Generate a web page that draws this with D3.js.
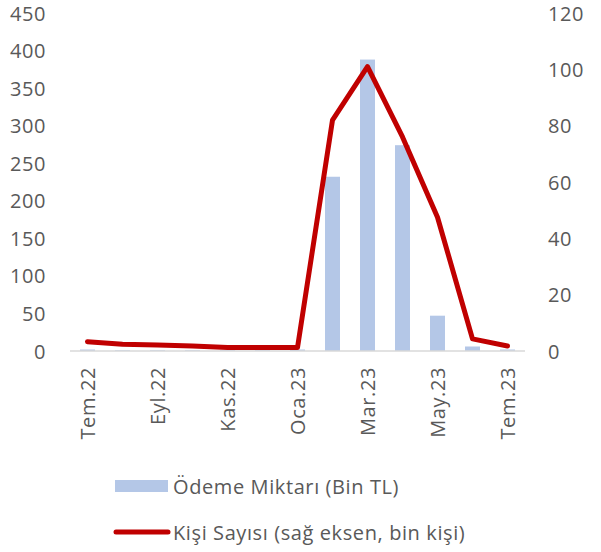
<!DOCTYPE html>
<meta charset="utf-8">
<script src="https://d3js.org/d3.v7.min.js"></script>
<style>
  body { margin: 0; background: #fff; }
  text { font-family: "Open Sans", sans-serif; fill: #595959; letter-spacing: 0.6px; }
</style>
<svg id="chart" width="601" height="552"></svg>
<script>
// months (every other one gets a label)
var months = ["Tem.22","Ağu.22","Eyl.22","Eki.22","Kas.22","Ara.22","Oca.23","Şub.23","Mar.23","Nis.23","May.23","Haz.23","Tem.23"]
var shownLabels = ["Tem.22","Eyl.22","Kas.22","Oca.23","Mar.23","May.23","Tem.23"]
// Ödeme Miktarı (Bin TL) - left axis
var payment = [2, 1, 1, 1, 1, 1, 2, 232, 388, 274, 47, 6, 2]
// Kişi Sayısı (bin kişi) - right axis
var people = [3.3, 2.4, 2.1, 1.8, 1.2, 1.2, 1.2, 82, 101, 76, 47.5, 4.3, 1.8]
var leftTicks = [0,50,100,150,200,250,300,350,400,450]
var rightTicks = [0,20,40,60,80,100,120]

var svg = d3.select("#chart")
var fs = 20

var x = d3.scaleBand().domain(months).range([70, 525])
var yL = d3.scaleLinear().domain([0, 450]).range([351, 13])
var yR = d3.scaleLinear().domain([0, 120]).range([351, 13])

// bars
svg.append("g")
  .selectAll("rect")
  .data(payment)
  .enter()
  .append("rect")
    .attr("x", function(d,i){ return x(months[i]) + x.bandwidth()/2 - 7.5 })
    .attr("width", 15)
    .attr("y", function(d){ return yL(d) })
    .attr("height", function(d){ return yL(0) - yL(d) })
    .style("fill", "#B4C7E7")

// baseline
svg.append("line")
  .attr("x1", 70).attr("x2", 525)
  .attr("y1", yL(0)).attr("y2", yL(0))
  .attr("stroke", "#D9D9D9").attr("stroke-width", 1.5)

// line
var line = d3.line()
  .x(function(d,i){ return x(months[i]) + x.bandwidth()/2 })
  .y(function(d){ return yR(d) })
svg.append("path")
  .datum(people)
  .attr("d", line)
  .attr("fill", "none")
  .attr("stroke", "#C00000")
  .attr("stroke-width", 5)
  .attr("stroke-linejoin", "round")
  .attr("stroke-linecap", "round")

// left axis labels
svg.selectAll("leftTick")
  .data(leftTicks)
  .enter()
  .append("text")
    .attr("x", 46)
    .attr("y", function(d){ return yL(d) })
    .attr("text-anchor", "end")
    .attr("dominant-baseline", "central")
    .style("font-size", fs)
    .text(function(d){ return d })

// right axis labels
svg.selectAll("rightTick")
  .data(rightTicks)
  .enter()
  .append("text")
    .attr("x", 548)
    .attr("y", function(d){ return yR(d) })
    .attr("dominant-baseline", "central")
    .style("font-size", fs)
    .text(function(d){ return d })

// x labels, rotated
svg.selectAll("xLabel")
  .data(shownLabels)
  .enter()
  .append("text")
    .attr("transform", function(d){
      return "translate(" + (x(d) + x.bandwidth()/2) + ",367) rotate(-90)"
    })
    .attr("text-anchor", "end")
    .attr("dominant-baseline", "central")
    .style("font-size", fs)
    .text(function(d){ return d })

// legend
svg.append("rect")
  .attr("x", 115).attr("y", 480).attr("width", 53).attr("height", 12)
  .style("fill", "#B4C7E7")
svg.append("text")
  .attr("x", 173).attr("y", 486)
  .attr("dominant-baseline", "central")
  .style("font-size", fs)
  .text("Ödeme Miktarı (Bin TL)")

svg.append("line")
  .attr("x1", 116).attr("x2", 168)
  .attr("y1", 532).attr("y2", 532)
  .attr("stroke", "#C00000").attr("stroke-width", 5)
  .attr("stroke-linecap", "round")
svg.append("text")
  .attr("x", 173).attr("y", 532)
  .attr("dominant-baseline", "central")
  .style("font-size", fs)
  .text("Kişi Sayısı (sağ eksen, bin kişi)")
</script>
